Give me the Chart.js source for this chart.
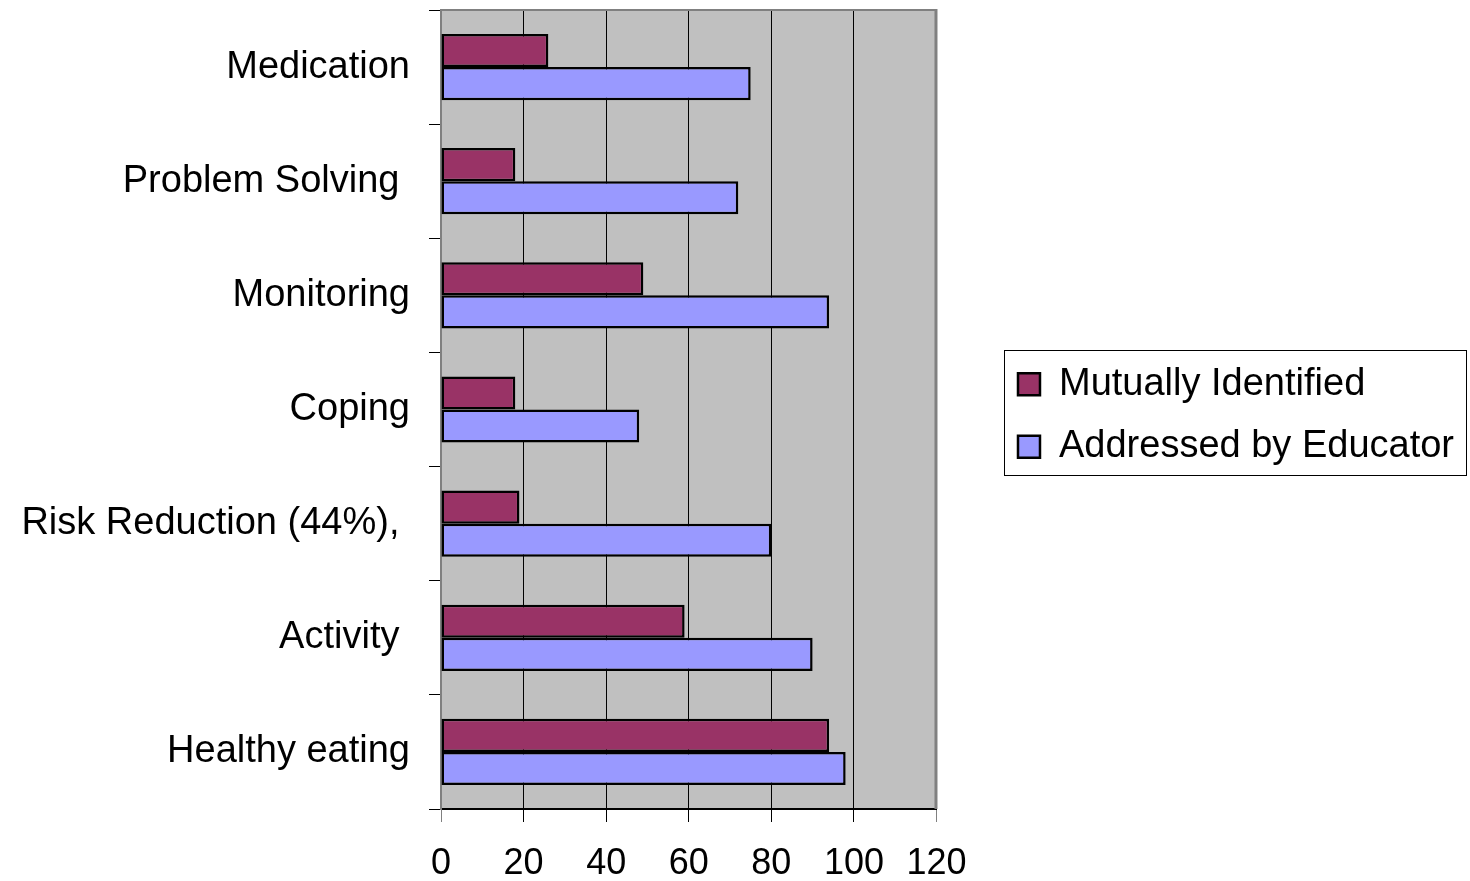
<!DOCTYPE html>
<html>
<head>
<meta charset="utf-8">
<title>Self-management topics</title>
<script src="https://cdn.jsdelivr.net/npm/chart.js@4/dist/chart.umd.min.js"></script>
<style>
  html, body { margin: 0; padding: 0; background: #ffffff; }
  #wrap { position: relative; width: 1470px; height: 881px; }
</style>
</head>
<body>
<div id="wrap"><canvas id="chart"></canvas></div>
<script>
// Topic categories (top to bottom)
const categories = [
  'Medication',
  'Problem Solving ',
  'Monitoring',
  'Coping',
  'Risk Reduction (44%), ',
  'Activity ',
  'Healthy eating'
];

// Percent of sessions per topic
const mutuallyIdentified  = [26, 18, 49, 18, 19, 59, 94];
const addressedByEducator = [75, 72, 94, 48, 80, 90, 98];

// Value axis ticks
const xTicks = [0, 20, 40, 60, 80, 100, 120];

const FONT = "'Liberation Sans', Arial, Helvetica, sans-serif";

// Grey plot background plus the thin grey frame on top and right
const plotFrame = {
  id: 'plotFrame',
  beforeDraw(chart) {
    const a = chart.chartArea, ctx = chart.ctx;
    ctx.save();
    ctx.fillStyle = '#C0C0C0';
    ctx.fillRect(a.left, a.top, a.right - a.left, a.bottom - a.top);
    ctx.restore();
  },
  afterDraw(chart) {
    const a = chart.chartArea, ctx = chart.ctx;
    ctx.save();
    ctx.strokeStyle = '#808080';
    ctx.lineWidth = 2;
    ctx.beginPath();
    ctx.moveTo(a.left, a.top);
    ctx.lineTo(a.right, a.top);
    ctx.stroke();
    ctx.lineWidth = 3;
    ctx.beginPath();
    ctx.moveTo(a.right - 0.5, a.top - 1);
    ctx.lineTo(a.right - 0.5, a.bottom);
    ctx.stroke();
    ctx.restore();
  }
};

// Empty layout box that keeps space between the plot and the legend,
// and a legend column that ends just below the plot
const legendGap = {
  id: 'legendGap',
  beforeInit(chart) {
    Chart.layouts.addBox(chart, {
      position: 'right',
      weight: 500,
      fullSize: false,
      options: {},
      isHorizontal() { return false; },
      update(maxWidth, maxHeight) { this.width = 57; this.height = maxHeight; },
      draw() {}
    });
  },
  afterLayout(chart) {
    const lg = chart.legend;
    if (!lg) return;
    lg.bottom = chart.chartArea.bottom + 12;
    lg.height = lg.bottom - lg.top;
  }
};

// Outline around the legend entries
const legendFrame = {
  id: 'legendFrame',
  afterDraw(chart) {
    const lg = chart.legend;
    if (!lg || !lg.legendHitBoxes || !lg.legendHitBoxes.length) return;
    const hb = lg.legendHitBoxes;
    const first = hb[0], last = hb[hb.length - 1];
    const left = first.left - 14;
    const right = left + 462;
    const top = first.top + first.height / 2 - 34;
    const bottom = last.top + last.height / 2 + 28;
    const ctx = chart.ctx;
    ctx.save();
    ctx.strokeStyle = '#000000';
    ctx.lineWidth = 1;
    ctx.strokeRect(Math.round(left) + 0.5, Math.round(top) + 0.5, Math.round(right - left), Math.round(bottom - top));
    ctx.restore();
  }
};

new Chart(document.getElementById('chart'), {
  type: 'bar',
  data: {
    labels: categories,
    datasets: [
      {
        label: 'Mutually Identified',
        data: mutuallyIdentified,
        backgroundColor: '#993366',
        borderColor: '#000000',
        borderWidth: 2.5,
        borderSkipped: false
      },
      {
        label: 'Addressed by Educator',
        data: addressedByEducator,
        backgroundColor: '#9999FF',
        borderColor: '#000000',
        borderWidth: 2.5,
        borderSkipped: false
      }
    ]
  },
  options: {
    indexAxis: 'y',
    responsive: true,
    maintainAspectRatio: false,
    animation: false,
    devicePixelRatio: 1,
    categoryPercentage: 0.58,
    barPercentage: 1.0,
    layout: { padding: { top: 10, left: 0, right: 6, bottom: 0 } },
    scales: {
      x: {
        min: xTicks[0],
        max: xTicks[xTicks.length - 1],
        afterBuildTicks(scale) { scale.ticks = xTicks.map(v => ({ value: v })); },
        afterFit(scale) { scale.height = 72; },
        ticks: {
          color: '#000000',
          font: { family: FONT, size: 36 },
          padding: 20,
          maxRotation: 0,
          autoSkip: false
        },
        grid: {
          color: (ctx) => (ctx.index === 0 || ctx.index === xTicks.length - 1) ? '#808080' : '#000000',
          lineWidth: 1,
          drawOnChartArea: true,
          drawTicks: true,
          tickLength: 13
        },
        border: { color: '#000000', width: 2 }
      },
      y: {
        afterFit(scale) {
          scale.width = 441;
          scale.paddingTop = 0;
          scale.paddingBottom = 0;
        },
        ticks: {
          color: '#000000',
          font: { family: FONT, size: 38 },
          padding: 19,
          autoSkip: false
        },
        grid: {
          color: '#000000',
          offset: true,
          drawOnChartArea: false,
          drawTicks: true,
          tickLength: 12
        },
        border: { color: '#808080', width: 2 }
      }
    },
    plugins: {
      tooltip: { enabled: false },
      title: { display: false },
      legend: {
        position: 'right',
        align: 'center',
        maxWidth: 700,
        labels: {
          color: '#000000',
          font: { family: FONT, size: 38 },
          boxWidth: 22,
          boxHeight: 22,
          padding: 24.5
        }
      }
    }
  },
  plugins: [plotFrame, legendGap, legendFrame]
});
</script>
</body>
</html>
